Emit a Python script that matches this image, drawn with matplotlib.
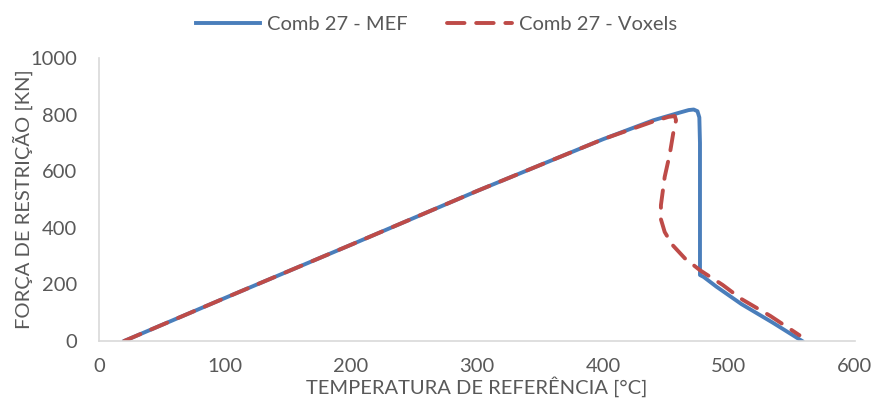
import matplotlib
matplotlib.use('Agg')
import matplotlib.pyplot as plt

# Comb 27 - MEF (temperature, force)
mef_t = [20, 100, 200, 300, 400, 440, 460, 468, 472, 475, 476.5, 477, 477, 480, 490, 510, 535, 558]
mef_f = [0, 152, 340, 530, 713, 780, 806, 816, 818, 812, 790, 700, 233, 226, 192, 130, 64, 0]

# Comb 27 - Voxels
vox_t = [20, 100, 200, 300, 400, 440, 452, 457, 458, 456, 453, 449, 446, 446, 449, 455, 465, 477, 495, 510, 533, 556]
vox_f = [0, 152, 340, 530, 713, 776, 792, 795, 780, 740, 660, 580, 480, 430, 385, 340, 292, 250, 198, 148, 88, 20]

x_ticks = [0, 100, 200, 300, 400, 500, 600]
y_ticks = [0, 200, 400, 600, 800, 1000]

plt.rcParams['font.family'] = ['Lato', 'DejaVu Sans']
grey = '#595959'

fig = plt.figure(figsize=(8.85, 4.03), dpi=100)
ax = fig.add_axes([0.112, 0.154, 0.854, 0.702])

ax.plot(mef_t, mef_f, color='#4A7EBB', lw=2.8, label='Comb 27 - MEF', solid_joinstyle='round')
ax.plot(vox_t, vox_f, color='#BE4B48', lw=2.8, dashes=(4.5, 3), dash_capstyle='round',
        label='Comb 27 - Voxels')

ax.set_xlim(0, 600)
ax.set_ylim(0, 1000)
ax.set_xticks(x_ticks)
ax.set_yticks(y_ticks)
ax.tick_params(length=0, labelsize=14.5, colors=grey)
ax.tick_params(axis='x', pad=12)
ax.tick_params(axis='y', pad=16)
for s in ['top', 'right']:
    ax.spines[s].set_visible(False)
for s in ['left', 'bottom']:
    ax.spines[s].set_color('#D9D9D9')
    ax.spines[s].set_linewidth(1.2)

ax.set_xlabel('TEMPERATURA DE REFERÊNCIA [°C]', fontsize=14.5, color=grey, labelpad=1)
ax.set_ylabel('FORÇA DE RESTRIÇÃO [KN]', fontsize=14.5, color=grey, labelpad=-2)

fig.legend(loc='upper center', bbox_to_anchor=(0.493, 1.005), ncol=2, frameon=False,
           fontsize=14.5, labelcolor=grey, handlelength=3.2, columnspacing=1.95, handletextpad=0.35)

fig.savefig('out.png', dpi=100)
